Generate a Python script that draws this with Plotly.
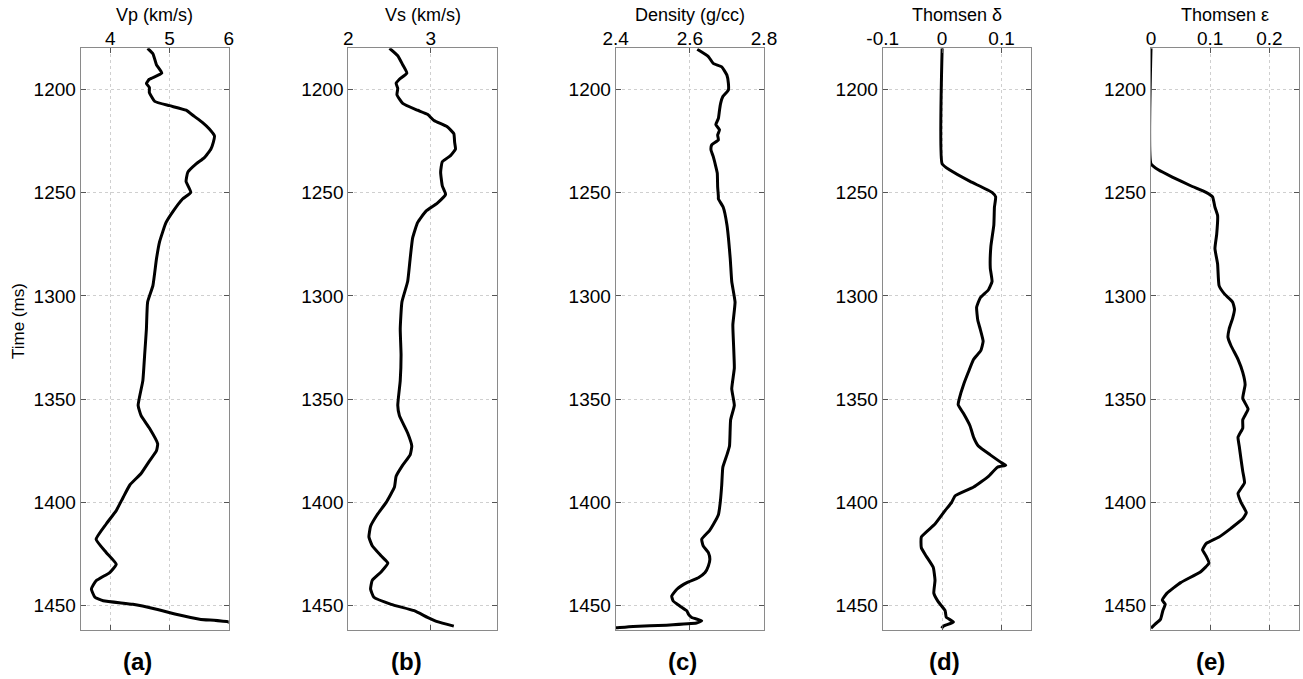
import plotly.graph_objects as go

# ---------------- data ----------------
vp_t = [1180, 1182.6, 1188, 1192, 1195, 1197, 1199, 1201.5, 1205.7, 1207.8, 1210, 1213, 1216, 1219,
        1222.5, 1225.6, 1228.8, 1233, 1236, 1240, 1244.5, 1249.8, 1253, 1259, 1264.5, 1274, 1282,
        1295, 1303, 1316, 1328.6, 1341, 1353, 1358, 1364, 1371.6, 1375, 1380, 1386, 1391.6, 1398,
        1404, 1410.5, 1417.9, 1424.3, 1430, 1434, 1438, 1442, 1446, 1447.7, 1449.4, 1451.8, 1454.2,
        1456.6, 1458, 1460]
vp_v = [4.63, 4.72, 4.78, 4.87, 4.66, 4.61, 4.66, 4.66, 4.75, 5.0, 5.28, 5.42, 5.56, 5.67,
        5.76, 5.74, 5.70, 5.59, 5.45, 5.31, 5.28, 5.36, 5.22, 5.06, 4.94, 4.83, 4.78,
        4.72, 4.63, 4.61, 4.58, 4.55, 4.47, 4.52, 4.66, 4.80, 4.78, 4.66, 4.52, 4.33, 4.21,
        4.10, 3.93, 3.76, 3.93, 4.10, 3.99, 3.76, 3.68, 3.74, 3.88, 4.38, 4.78, 5.11,
        5.51, 6.0, 6.1]

vs_t = [1180, 1183.6, 1188, 1192, 1195, 1197, 1199.4, 1202.5, 1206.7, 1210, 1212, 1215, 1218, 1221.4,
        1225.6, 1228.8, 1232, 1235, 1240, 1246.6, 1250.8, 1255, 1259, 1264.5, 1272, 1282, 1293,
        1303, 1316, 1328.6, 1341, 1353, 1358, 1366.4, 1372.7, 1377, 1382, 1387.4, 1392.6, 1400,
        1406, 1411.6, 1416.8, 1421, 1426, 1429.4, 1433.6, 1437.8, 1442, 1446, 1449.4, 1452.5,
        1455.7, 1457.8, 1460]
vs_v = [2.50, 2.60, 2.66, 2.71, 2.62, 2.58, 2.60, 2.59, 2.66, 2.84, 2.96, 3.04, 3.20, 3.28,
        3.29, 3.30, 3.24, 3.14, 3.12, 3.14, 3.18, 3.08, 2.94, 2.84, 2.78, 2.75, 2.72,
        2.65, 2.63, 2.64, 2.63, 2.60, 2.62, 2.72, 2.77, 2.75, 2.66, 2.58, 2.56, 2.46,
        2.35, 2.27, 2.25, 2.29, 2.40, 2.48, 2.40, 2.29, 2.27, 2.31, 2.52, 2.80,
        2.96, 3.08, 3.28]

rho_t = [1180.5, 1184, 1187.3, 1189, 1193, 1197, 1200.2, 1203.4, 1206.7, 1210, 1214, 1217, 1219.5,
         1222, 1224.4, 1226.8, 1229.2, 1232.4, 1237.3, 1240.5, 1247, 1251.8, 1253, 1257, 1265.5,
         1282, 1293, 1303, 1314, 1324, 1335, 1345, 1353, 1360, 1372.7, 1377, 1383, 1391.6, 1400,
         1406, 1410.5, 1413.7, 1417.9, 1421.1, 1424.4, 1427.6, 1430.8, 1434, 1436.5, 1438.9,
         1442.1, 1445.4, 1447.8, 1450.2, 1452.6, 1454.2, 1455.8, 1457.4, 1458.5, 1459.5, 1460.1,
         1460.8, 1461.5]
rho_v = [2.62, 2.65, 2.663, 2.686, 2.70, 2.704, 2.704, 2.689, 2.683, 2.68, 2.677, 2.67, 2.68,
         2.675, 2.677, 2.659, 2.657, 2.663, 2.67, 2.674, 2.675, 2.677, 2.677, 2.69, 2.70,
         2.709, 2.713, 2.722, 2.716, 2.718, 2.72, 2.713, 2.72, 2.71, 2.707, 2.70, 2.689, 2.686, 2.682,
         2.677, 2.664, 2.653, 2.632, 2.636, 2.65, 2.654, 2.65, 2.641, 2.623, 2.592,
         2.565, 2.551, 2.555, 2.573, 2.592, 2.596, 2.605, 2.632, 2.618, 2.537, 2.447,
         2.40, 2.35]

delta_t = [1180, 1236, 1239, 1244.5, 1249.8, 1252, 1257, 1265.5, 1276, 1286.5, 1293, 1297, 1301,
           1305.5, 1311.8, 1316, 1322, 1326.5, 1330.7, 1337, 1343, 1349.6, 1352.7, 1357, 1363,
           1368.5, 1372.7, 1377, 1381, 1382, 1383, 1387.4, 1392.6, 1396.8, 1400, 1404, 1410.5,
           1416.8, 1422, 1426, 1431.5, 1437.8, 1444, 1448, 1452.5, 1455.7, 1458, 1460, 1461]
delta_v = [0.0, 0.0, 0.013, 0.047, 0.084, 0.09, 0.088, 0.087, 0.082, 0.081, 0.084, 0.078, 0.064,
           0.058, 0.060, 0.064, 0.069, 0.065, 0.053, 0.044, 0.036, 0.029, 0.027, 0.036, 0.047,
           0.053, 0.061, 0.081, 0.101, 0.107, 0.093, 0.078, 0.053, 0.022, 0.016, 0.005, -0.012,
           -0.035, -0.035, -0.027, -0.015, -0.012, -0.014, -0.007, 0.005, 0.007, 0.019, 0.002, -0.001]

eps_t = [1180, 1236, 1239, 1242.4, 1246.6, 1249.8, 1252, 1257, 1261, 1270, 1277, 1284.5, 1295, 1299,
         1303, 1306.5, 1310.7, 1316, 1320, 1324, 1330.7, 1337, 1343, 1349.6, 1354.8, 1360, 1364,
         1368.5, 1372.7, 1379, 1385, 1390.5, 1395.7, 1400, 1405, 1408, 1412.6, 1416.8, 1420, 1423,
         1426, 1429.4, 1433.6, 1438.9, 1444, 1447.3, 1449.4, 1452.5, 1456.7, 1459, 1461]
eps_v = [0.0, 0.0, 0.013, 0.036, 0.067, 0.093, 0.104, 0.108, 0.1125, 0.111, 0.108, 0.1125, 0.115, 0.124,
         0.138, 0.141, 0.138, 0.132, 0.13, 0.135, 0.147, 0.155, 0.159, 0.155, 0.164, 0.155, 0.155,
         0.147, 0.149, 0.152, 0.155, 0.158, 0.147, 0.152, 0.161, 0.155, 0.135, 0.115, 0.093, 0.087,
         0.093, 0.098, 0.084, 0.05, 0.027, 0.019, 0.024, 0.02, 0.016, 0.007, 0.0]

titles = ["Vp (km/s)", "Vs (km/s)", "Density (g/cc)", "Thomsen \u03b4", "Thomsen \u03b5"]
panel_labels = ["(a)", "(b)", "(c)", "(d)", "(e)"]
x_ranges = [[3.5, 6.0], [2.0, 3.8], [2.4, 2.8], [-0.1, 0.15], [0.0, 0.25]]
x_ticks = [[4, 5, 6], [2, 3], [2.4, 2.6, 2.8], [-0.1, 0, 0.1], [0, 0.1, 0.2]]
x_ticktext = [["4", "5", "6"], ["2", "3"], ["2.4", "2.6", "2.8"], ["-0.1", "0", "0.1"], ["0", "0.1", "0.2"]]
y_ticks = [1200, 1250, 1300, 1350, 1400, 1450]
y_range = [1462, 1180]

series = [(vp_t, vp_v), (vs_t, vs_v), (rho_t, rho_v), (delta_t, delta_v), (eps_t, eps_v)]

# ---------------- layout geometry (page pixels) ----------------
W, H = 1303, 679
left_px = [80.7, 348.3, 615.7, 882.7, 1151.0]
right_px = [228.7, 496.7, 764.0, 1031.3, 1299.0]
top_px, bottom_px = 48.3, 630.3
label_x_px = [137, 406, 682, 944, 1210]


def px_x(p):
    return p / W


def px_y(p):
    return 1 - p / H


FONT = "Liberation Sans, Arial, sans-serif"
fig = go.Figure()

for i, (t, v) in enumerate(series):
    n = "" if i == 0 else str(i + 1)
    fig.add_trace(go.Scatter(x=v, y=t, mode="lines",
                             line=dict(color="black", width=3, shape="spline", smoothing=0.4),
                             xaxis="x" + n, yaxis="y" + n, showlegend=False, cliponaxis=True,
                             hoverinfo="skip"))
    lo, hi = x_ranges[i]
    pad = (hi - lo) * 1e-4
    common = dict(showgrid=True, gridcolor="#cfcfcf", griddash="dot", gridwidth=1,
                  showline=True, linecolor="#8a8a8a", linewidth=1, mirror="allticks",
                  ticks="inside", ticklen=5, tickcolor="#555555", zeroline=False,
                  tickfont=dict(family=FONT, size=19, color="black"), automargin=False)
    fig.layout["xaxis" + n] = dict(
        domain=[px_x(left_px[i]), px_x(right_px[i])], anchor="y" + n, side="top",
        range=[lo - pad, hi + pad], tickvals=x_ticks[i], ticktext=x_ticktext[i],
        ticklabelstandoff=-5, **common)
    fig.layout["yaxis" + n] = dict(
        domain=[px_y(bottom_px), px_y(top_px)], anchor="x" + n,
        range=y_range, tickvals=y_ticks, **common)

annotations = []
for i in range(5):
    cx = px_x((left_px[i] + right_px[i]) / 2)
    annotations.append(dict(text=titles[i], x=cx, y=px_y(15), xref="paper", yref="paper",
                            showarrow=False, xanchor="center", yanchor="middle",
                            font=dict(family=FONT, size=18, color="black")))
    annotations.append(dict(text="<b>" + panel_labels[i] + "</b>", x=px_x(label_x_px[i]), y=px_y(661),
                            xref="paper", yref="paper", showarrow=False,
                            xanchor="center", yanchor="middle",
                            font=dict(family=FONT, size=24, color="black")))
annotations.append(dict(text="Time (ms)", x=px_x(18), y=px_y(321), xref="paper", yref="paper",
                        showarrow=False, textangle=-90, xanchor="center", yanchor="middle",
                        font=dict(family=FONT, size=17, color="black")))

fig.update_layout(width=W, height=H, margin=dict(l=0, r=0, t=0, b=0),
                  plot_bgcolor="white", paper_bgcolor="white",
                  annotations=annotations, showlegend=False)

fig.write_html("out.html", config={"displayModeBar": False},
               post_script="document.body.style.margin='0';document.body.style.overflow='hidden';")
